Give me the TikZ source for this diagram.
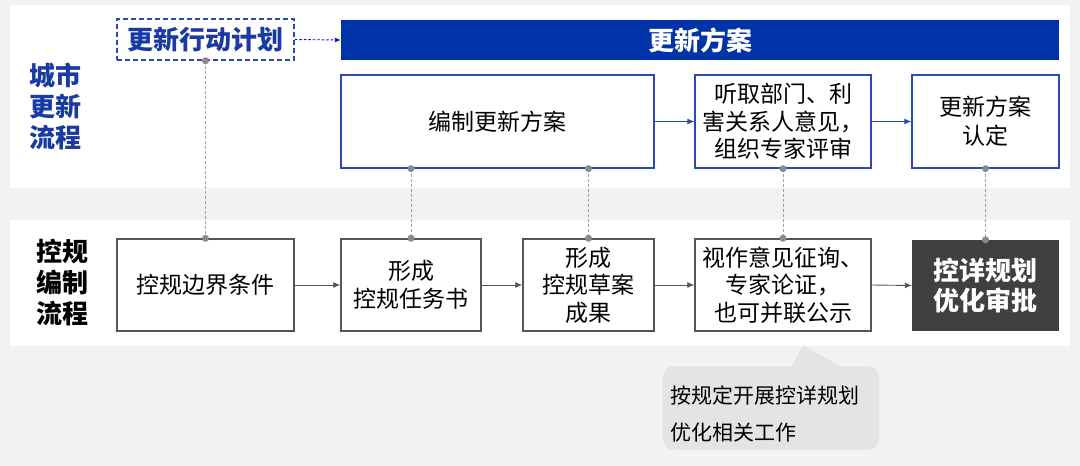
\documentclass[tikz,border=0pt]{standalone}
\usepackage{fontspec}
\setmainfont{Noto Sans CJK SC}
\usetikzlibrary{arrows.meta}
\definecolor{bggray}{HTML}{F2F2F2}
\definecolor{barblue}{HTML}{0032A8}
\definecolor{txtblue}{HTML}{1A3AA3}
\definecolor{boxblue}{HTML}{2A4AB0}
\definecolor{boxgray}{HTML}{555555}
\definecolor{darkbox}{HTML}{404040}
\definecolor{dotgray}{HTML}{8A8A8A}
\definecolor{notegray}{HTML}{E4E4E4}
\tikzset{
  bluebox/.style={draw=boxblue, line width=1.3pt, fill=white, inner sep=0pt, align=center,
    font=\fontsize{23}{27.5}\selectfont},
  graybox/.style={draw=boxgray, line width=1.5pt, fill=white, inner sep=0pt, align=center,
    font=\fontsize{23}{27.5}\selectfont},
  bluearrow/.style={draw=boxblue, line width=0.9pt, -{Latex[length=7pt,width=6pt]}},
  grayarrow/.style={draw=boxgray, line width=0.9pt, -{Latex[length=7pt,width=6pt]}},
  linkline/.style={draw=dotgray!80, line width=0.8pt, dash pattern=on 3pt off 2pt},
  enddot/.style={fill=dotgray, draw=none, circle, minimum size=7pt, inner sep=0pt},
  sidetitle/.style={align=center, font=\fontsize{26}{31}\selectfont\bfseries},
}
\begin{document}
\begin{tikzpicture}[x=1pt,y=1pt,yscale=-1]
\useasboundingbox (0,0) rectangle (1080,466);
\fill[bggray] (0,0) rectangle (1080,466);
\fill[white] (10,5) rectangle (1070,188);
\fill[white] (10,220) rectangle (1070,346);

% side titles
\node[sidetitle, text=txtblue] (t1) at (56,106) {城市\\更新\\流程};
\node[sidetitle, text=black] (t2) at (62,283) {控规\\编制\\流程};

% top row
\node[draw=boxblue, line width=1.5pt, dash pattern=on 5pt off 3pt, fill=white,
  minimum width=177pt, minimum height=41pt, inner sep=0pt, text=txtblue,
  font=\fontsize{26}{31}\selectfont\bfseries] (plan) at (205.5,39.5) {更新行动计划};
\node[fill=barblue, minimum width=718pt, minimum height=40pt, inner sep=0pt, text=white,
  font=\fontsize{26}{31}\selectfont\bfseries] (bar) at (700,40) {更新方案};

\node[bluebox, minimum width=313pt, minimum height=93pt] (u1) at (497.5,121.5) {编制更新方案};
\node[bluebox, minimum width=176pt, minimum height=93pt] (u2) at (783,121.5) {听取部门、利\\害关系人意见，\\组织专家评审};
\node[bluebox, minimum width=147pt, minimum height=93pt, font=\fontsize{23}{29}\selectfont] (u3) at (985.5,121.5) {更新方案\\认定};

% bottom row
\node[graybox, minimum width=177pt, minimum height=92pt] (k1) at (205.5,285) {控规边界条件};
\node[graybox, minimum width=140pt, minimum height=92pt, font=\fontsize{23}{28}\selectfont] (k2) at (411,285) {形成\\控规任务书};
\node[graybox, minimum width=131pt, minimum height=92pt] (k3) at (588.5,285) {形成\\控规草案\\成果};
\node[graybox, minimum width=176pt, minimum height=92pt] (k4) at (783,285) {视作意见征询、\\专家论证，\\也可并联公示};
\node[fill=darkbox, minimum width=147pt, minimum height=91pt, inner sep=0pt, text=white, align=center,
  font=\fontsize{26}{30}\selectfont\bfseries] (k5) at (985.5,285.5) {控详规划\\优化审批};

% arrows
\draw[blue!60!barblue, line width=0.9pt, dash pattern=on 2.5pt off 2pt, -{Latex[length=6pt,width=5pt]}] (plan.east) -- (bar.west);
\draw[bluearrow] (u1.east) -- (u2.west);
\draw[bluearrow] (u2.east) -- (u3.west);
\draw[grayarrow] (k1.east) -- (k2.west);
\draw[grayarrow] (k2.east) -- (k3.west);
\draw[grayarrow] (k3.east) -- (k4.west);
\draw[grayarrow] (k4.east) -- (k5.west);

% dotted links
\coordinate (a1) at (plan.south);
\coordinate (b1) at (k1.north);
\coordinate (a2) at (u1.south -| k2.north);
\coordinate (b2) at (k2.north);
\coordinate (a3) at (u1.south -| k3.north);
\coordinate (b3) at (k3.north);
\coordinate (a4) at (u2.south);
\coordinate (b4) at (k4.north);
\coordinate (a5) at (u3.south);
\coordinate (b5) at (k5.north);
\foreach \i in {1,...,5}{
  \draw[linkline] (a\i) -- (b\i);
  \node[enddot] at (a\i) {};
  \node[enddot] at (b\i) {};
}

% callout
\coordinate (tip) at (803,345);
\fill[notegray] (791,368) -- (tip) -- (843,368) -- cycle;
\node[fill=notegray, rounded corners=11pt, minimum width=216pt, minimum height=84pt, inner sep=0pt] (note) at (771,408) {};
\node[anchor=west, align=left, inner sep=0pt, font=\fontsize{21}{37}\selectfont] (notetext) at (670,413.5) {按规定开展控详规划\\优化相关工作};
\end{tikzpicture}
\end{document}
